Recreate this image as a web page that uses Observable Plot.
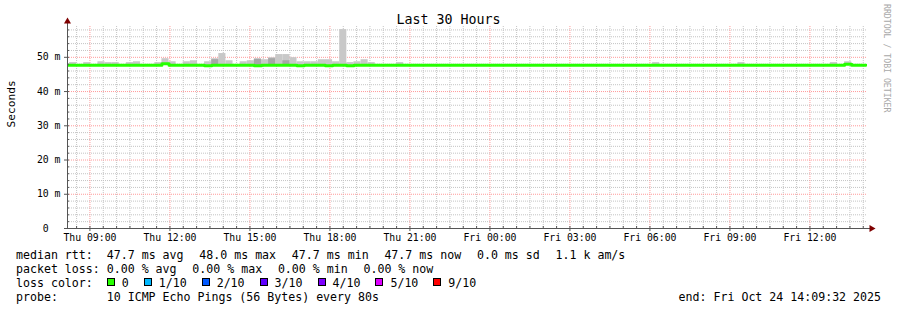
<!DOCTYPE html>
<html><head><meta charset="utf-8">
<script src="https://cdn.jsdelivr.net/npm/d3@7"></script>
<script src="https://cdn.jsdelivr.net/npm/@observablehq/plot@0.6"></script>
<style>
body{margin:0;background:#fff;}
#wrap{position:relative;width:897px;height:310px;overflow:hidden;font-family:"DejaVu Sans Mono",monospace;color:#000;background:#fff;}
#chart{position:absolute;left:0;top:0;}
#title{position:absolute;left:0;top:11.7px;width:897px;text-align:center;font-size:13.3px;line-height:15.5px;}
#watermark{position:absolute;left:882px;top:4px;writing-mode:vertical-rl;font-size:8.2px;color:#a8a8a8;line-height:10px;}
#legend{position:absolute;left:16px;top:247.5px;width:865px;font-size:11.6px;line-height:14px;white-space:pre;}
.row{height:14px;}
.fld{margin-right:1.8px;}
.probe{display:flex;justify-content:space-between;}
.sw{display:inline-block;width:6px;height:6px;border:1px solid #000;margin-right:7px;vertical-align:1px;}
</style></head><body>
<div id="wrap">
  <div id="chart"></div>
  <div id="title"></div>
  <div id="watermark"></div>
  <div id="legend"></div>
</div>
<script>
const titleText = "Last 30 Hours";
const watermarkText = "RRDTOOL / TOBI OETIKER";
const yAxisLabel = "Seconds";
const startTime = "2025-10-23T08:09:32Z";
const endTime = "2025-10-24T14:09:32Z";
const firstBarTime = "2025-10-23T07:58:00Z";
const stepMinutes = 16;

// median RTT per 16-minute step (ms)
const medianRtt = [
 47.7,47.7,47.7,47.7,47.7,47.7,47.7,47.7,47.7,47.7,
 47.7,47.7,47.7,47.7,48.1,47.7,47.7,47.7,47.7,47.7,
 47.5,47.7,47.7,47.7,47.7,47.7,47.7,47.5,47.7,47.7,
 47.7,47.7,47.7,47.5,47.7,47.7,47.7,47.5,47.7,47.7,
 47.5,47.7,47.7,47.7,47.7,47.7,47.7,47.7,47.7,47.7,
 47.7,47.7,47.7,47.7,47.7,47.7,47.7,47.7,47.7,47.7,
 47.7,47.7,47.7,47.7,47.7,47.7,47.7,47.7,47.7,47.7,
 47.7,47.7,47.7,47.7,47.7,47.7,47.7,47.7,47.7,47.7,
 47.7,47.7,47.7,47.7,47.7,47.7,47.7,47.7,47.7,47.7,
 47.7,47.7,47.7,47.7,47.7,47.7,47.7,47.7,47.7,47.7,
 47.7,47.7,47.7,47.7,47.7,47.7,47.7,47.7,47.7,47.7,
 48.0,47.7,47.7
];
// upper edge of the light smoke (ms)
const smokeMax = [
 null,48.45,null,48.45,null,48.7,48.45,48.45,null,48.45,
 48.7,null,null,48.45,49.6,48.7,null,48.7,49.0,null,
 48.7,49.6,51.1,49.0,null,48.7,49.0,49.6,49.3,49.9,
 50.8,50.8,49.9,48.7,48.7,48.7,49.3,49.3,48.7,58.1,
 48.45,48.7,49.3,48.45,null,null,null,48.45,null,null,
 null,null,null,null,null,null,null,null,null,null,
 null,null,null,null,null,null,null,null,null,null,
 null,null,null,null,null,null,null,null,null,null,
 null,null,null,48.45,null,null,null,null,null,null,
 null,null,null,null,null,48.45,null,null,null,null,
 null,null,null,null,null,null,null,null,48.45,null,
 48.7,null,null
];
// upper edge of the darker smoke (ms)
const smokeDark = [
 null,null,null,null,null,null,null,null,null,null,
 null,null,null,null,null,null,null,null,null,null,
 null,49.3,null,null,null,null,null,49.4,null,49.6,
 null,49.0,null,null,null,null,null,null,null,null,
 null,null,null,null,null,null,null,null,null,null,
 null,null,null,null,null,null,null,null,null,null,
 null,null,null,null,null,null,null,null,null,null,
 null,null,null,null,null,null,null,null,null,null,
 null,null,null,null,null,null,null,null,null,null,
 null,null,null,null,null,null,null,null,null,null,
 null,null,null,null,null,null,null,null,null,null,
 null,null,null
];

const xTickTimes = ["2025-10-23T09:00Z","2025-10-23T12:00Z","2025-10-23T15:00Z","2025-10-23T18:00Z","2025-10-23T21:00Z","2025-10-24T00:00Z","2025-10-24T03:00Z","2025-10-24T06:00Z","2025-10-24T09:00Z","2025-10-24T12:00Z"];
const xTickLabels = ["Thu 09:00","Thu 12:00","Thu 15:00","Thu 18:00","Thu 21:00","Fri 00:00","Fri 03:00","Fri 06:00","Fri 09:00","Fri 12:00"];
const yTicks = [0,10,20,30,40,50];
const yTickLabels = ["0\u00a0\u00a0","10 m","20 m","30 m","40 m","50 m"];

const rttLabel = "median rtt:  ";
const rttFields = ["47.7 ms avg","48.0 ms max","47.7 ms min","47.7 ms now","0.0 ms sd","1.1 k am/s"];
const lossStatLabel = "packet loss: ";
const lossStatFields = ["0.00 % avg","0.00 % max","0.00 % min","0.00 % now"];
const lossLabel = "loss color:  ";
const lossLabels = ["0","1/10","2/10","3/10","4/10","5/10","9/10"];
const lossColors = ["#26ff00","#00b8ff","#0059ff","#5e00ff","#7e00ff","#dd00ff","#ff0000"];
const probeText = "probe:       10 ICMP Echo Pings (56 Bytes) every 80s";
const endText = "end: Fri Oct 24 14:09:32 2025";

// ---- build
const start = new Date(startTime), end = new Date(endTime);
const t0 = new Date(firstBarTime).getTime(), stepMs = stepMinutes * 60000;
const bars = medianRtt.map((m, i) => ({
  t0: new Date(t0 + i * stepMs), t1: new Date(t0 + (i + 1) * stepMs),
  median: m, top: smokeMax[i], dark: smokeDark[i]
}));
const linePts = bars.map(d => ({t: d.t0, v: d.median}));
linePts.push({t: bars[bars.length - 1].t1, v: bars[bars.length - 1].median});

const xMajor = xTickTimes.map(s => new Date(s));
const majorSet = new Set(xMajor.map(d => d.getTime()));
const xMinor = d3.utcMinute.every(30).range(start, end).filter(d => !majorSet.has(d.getTime()));
const yMajor = yTicks.slice(1);
const yMinor = d3.range(2, 59, 2).filter(v => v % 10 !== 0);
const allYTicks = d3.range(2, 59, 2);

const axisColor = "#555";
const minorGrid = "#c4c4c4";
const majorGrid = "#ff9a9a";

const chart = Plot.plot({
  width: 897, height: 246,
  marginLeft: 67, marginRight: 30, marginTop: 26, marginBottom: 18,
  style: {fontFamily: '"DejaVu Sans Mono", monospace', fontSize: "9.8px", background: "transparent", overflow: "visible"},
  x: {type: "utc", domain: [start, end]},
  y: {domain: [0, 59]},
  marks: [
    Plot.ruleY(yMinor, {stroke: minorGrid, strokeDasharray: "1,1"}),
    Plot.ruleX(xMinor, {stroke: minorGrid, strokeDasharray: "1,1"}),
    Plot.ruleY(yMajor, {stroke: majorGrid, strokeDasharray: "1,1"}),
    Plot.ruleX(xMajor, {stroke: majorGrid, strokeDasharray: "1,1"}),
    Plot.rect(bars.filter(d => d.top != null), {x1: "t0", x2: "t1", y1: "median", y2: "top", fill: "#c8c8c8", clip: true}),
    Plot.rect(bars.filter(d => d.dark != null), {x1: "t0", x2: "t1", y1: "median", y2: "dark", fill: "#a6a6a6", clip: true}),
    Plot.line(linePts, {x: "t", y: "v", curve: "step-after", stroke: "#26ff00", strokeWidth: 3, clip: true}),
    Plot.ruleX([start], {stroke: axisColor, insetTop: -5}),
    Plot.ruleY([0], {stroke: axisColor, insetRight: -5}),
    Plot.ruleY(allYTicks, {x1: () => start, x2: () => start, insetRight: -2, stroke: axisColor}),
    Plot.ruleY(yTicks, {x1: () => start, x2: () => start, insetLeft: -3, stroke: axisColor}),
    Plot.ruleX(xMinor, {y1: () => 0, y2: () => 0, insetTop: -2, stroke: axisColor}),
    Plot.ruleX(xMajor, {y1: () => 0, y2: () => 0, insetBottom: -3, insetTop: -2, stroke: axisColor}),
    Plot.dot([start], {x: d => d, y: () => 59, symbol: "triangle", r: 2.6, fill: "#7f0000", stroke: null, dy: -5}),
    Plot.dot([end], {x: d => d, y: () => 0, symbol: "triangle", rotate: 90, r: 2.6, fill: "#7f0000", stroke: null, dx: 4}),
    Plot.axisX(xMajor, {tickSize: 0, tickPadding: 6, label: null,
      tickFormat: d => xTickLabels[xMajor.findIndex(t => t.getTime() === d.getTime())]}),
    Plot.axisY(yTicks, {tickSize: 0, tickPadding: 7, label: null,
      tickFormat: d => yTickLabels[yTicks.indexOf(d)]}),
    Plot.text([yAxisLabel], {frameAnchor: "left", rotate: -90, dx: -56, fontSize: 11.2})
  ]
});
document.getElementById("chart").appendChild(chart);
document.getElementById("title").textContent = titleText;
document.getElementById("watermark").textContent = watermarkText;

const legend = document.getElementById("legend");
function span(text, cls) { const s = document.createElement("span"); s.textContent = text; if (cls) s.className = cls; return s; }
function statRow(label, fields) {
  const r = document.createElement("div"); r.className = "row";
  r.appendChild(span(label));
  fields.forEach((f, i) => r.appendChild(span(i < fields.length - 1 ? f + "  " : f, "fld")));
  legend.appendChild(r);
}
statRow(rttLabel, rttFields);
statRow(lossStatLabel, lossStatFields);
const lr = document.createElement("div"); lr.className = "row";
lr.appendChild(span(lossLabel));
lossLabels.forEach((lab, i) => {
  const sw = span("", "sw"); sw.style.background = lossColors[i]; lr.appendChild(sw);
  const t = span(lab); t.style.marginRight = "15px"; lr.appendChild(t);
});
legend.appendChild(lr);
const pr = document.createElement("div"); pr.className = "row probe";
pr.appendChild(span(probeText)); pr.appendChild(span(endText));
legend.appendChild(pr);
</script>
</body></html>
